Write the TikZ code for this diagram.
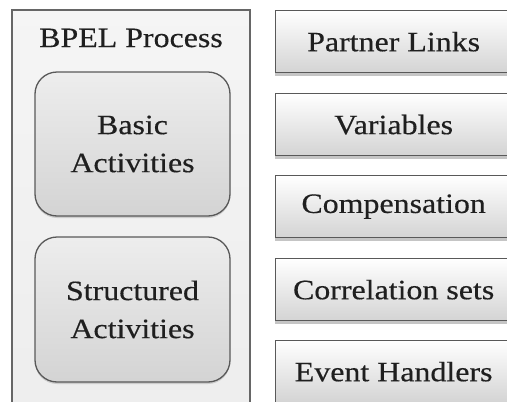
\documentclass[tikz,border=0pt]{standalone}
\usepackage{fontspec}
\setmainfont{Liberation Serif}[FakeStretch=1.14, FakeBold=0.4]
\usepackage{tikz}
\usetikzlibrary{shadows}
\tikzset{
  txt/.style={font=\fontsize{28}{38}\selectfont, text=black!88},
  outerbox/.style={draw=black!60, line width=1.3pt, top color=black!4, bottom color=black!7},
  actbox/.style={draw=black!65, line width=1.3pt, rounded corners=22pt,
    top color=black!7, bottom color=black!17, minimum width=195pt,
    align=center, txt, drop shadow={shadow xshift=0pt, shadow yshift=-2pt, opacity=0.3}},
  partbox/.style={draw=black!65, line width=1.3pt, anchor=north west,
    top color=white, bottom color=black!17, minimum width=236pt, minimum height=62pt,
    txt, drop shadow={shadow xshift=-1pt, shadow yshift=-3pt, opacity=0.45}},
}
\begin{document}
\begin{tikzpicture}[x=1pt,y=-1pt]
    \useasboundingbox (0,0) rectangle (507,402);
    \clip (0,0) rectangle (507,402);
    \fill[white] (0,0) rectangle (507,402);
    % left side
    \draw[outerbox] (12,10) rectangle (250,420);
    \node[txt] (bpel) at (131,38) {BPEL Process};
    \node[actbox, minimum height=144pt] (basic) at (132.5,144) {Basic\\Activities};
    \node[actbox, minimum height=145pt] (struct) at (132.5,309.5) {Structured\\Activities};
    % right side
    \node[partbox] (links) at (275,10) {Partner Links};
    \node[partbox] (vars) at (275,93) {Variables};
    \node[partbox] (comp) at (275,175) {Compensation};
    \node[partbox] (corr) at (275,258) {Correlation sets};
    \node[partbox] (events) at (275,340) {Event Handlers};
\end{tikzpicture}
\end{document}
